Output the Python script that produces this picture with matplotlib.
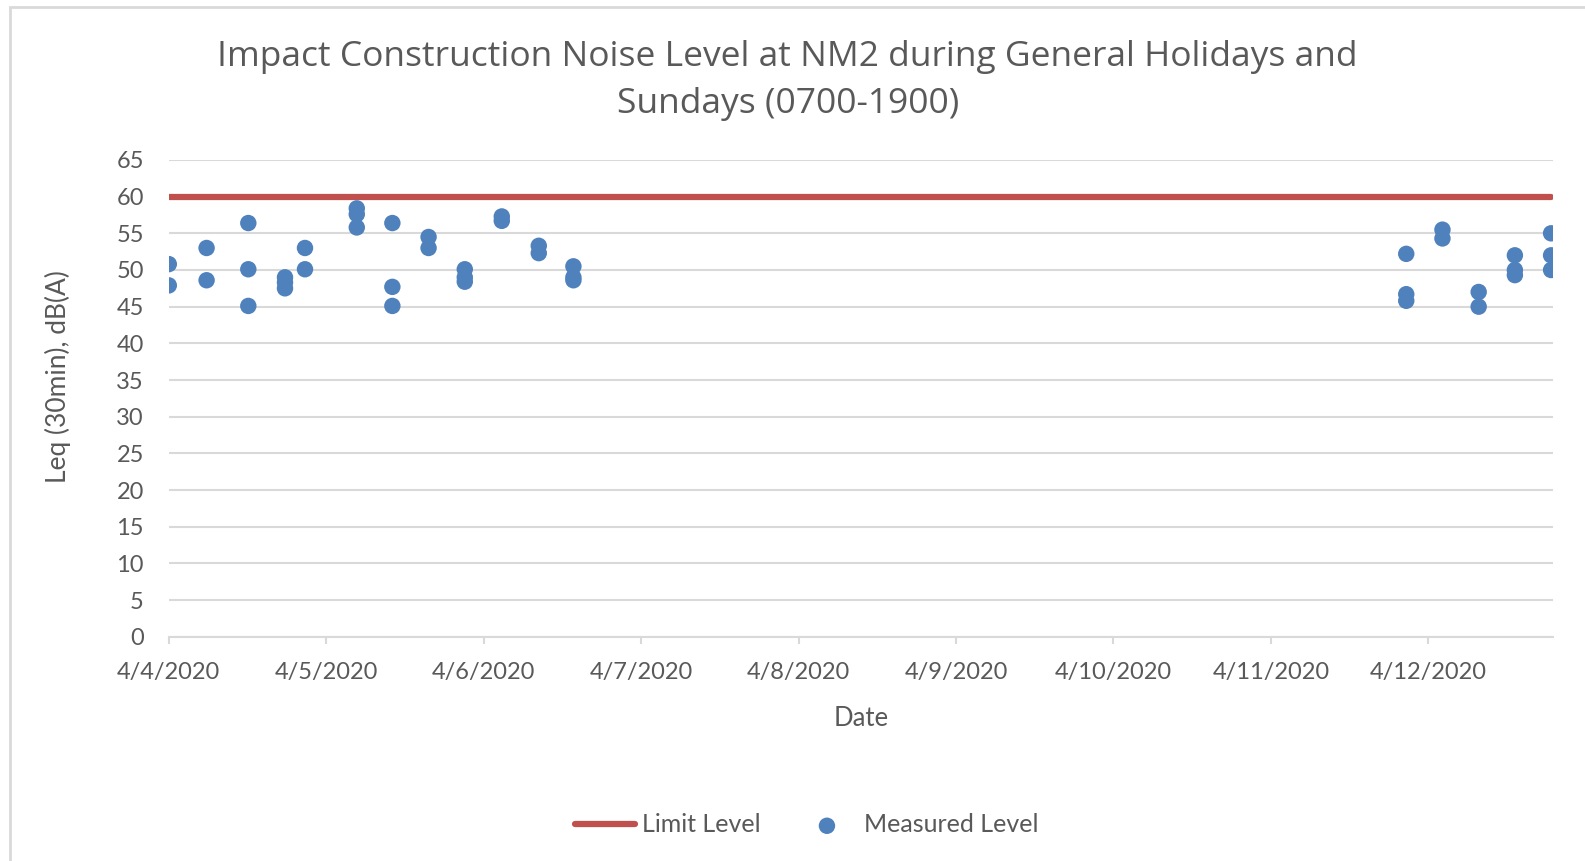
import numpy as np
import matplotlib
matplotlib.use("Agg")
import matplotlib.pyplot as plt
from matplotlib.patches import Rectangle

plt.rcParams['font.family'] = ['Lato', 'DejaVu Sans']

# Dias desde 4/4/2020 e nível medido, Leq (30min) dB(A)
meas_day = [0.0, 0.0,
            0.24, 0.24,
            0.505, 0.505, 0.505,
            0.738, 0.738, 0.738,
            0.865, 0.865,
            1.194, 1.194, 1.194,
            1.42, 1.42, 1.42,
            1.65, 1.65,
            1.88, 1.88, 1.88,
            2.115, 2.115,
            2.35, 2.35,
            2.57, 2.57, 2.57,
            7.86, 7.86, 7.86,
            8.09, 8.09,
            8.32, 8.32,
            8.55, 8.55, 8.55,
            8.78, 8.78, 8.78]
meas_leq = [50.8, 47.9,
            53.0, 48.6,
            56.4, 50.1, 45.1,
            49.0, 48.3, 47.5,
            53.0, 50.1,
            58.4, 57.6, 55.8,
            56.4, 47.7, 45.1,
            54.5, 53.0,
            50.1, 49.0, 48.4,
            57.3, 56.7,
            53.3, 52.3,
            50.5, 49.0, 48.6,
            52.2, 46.7, 45.8,
            55.5, 54.3,
            47.0, 45.0,
            52.0, 50.0, 49.3,
            55.0, 52.0, 50.0]
limit_level = 60
date_labels = ['4/4/2020', '4/5/2020', '4/6/2020', '4/7/2020', '4/8/2020',
               '4/9/2020', '4/10/2020', '4/11/2020', '4/12/2020']

fig = plt.figure(figsize=(15.85, 8.61), dpi=100)
ax = fig.add_axes([0.1065, 0.2605, 0.8731, 0.5537])

# borda do gráfico
fig.patches.append(Rectangle((0.0063, -0.01), 1.1, 1.002, transform=fig.transFigure,
                             fill=False, edgecolor='#d9d9d9', linewidth=2))

ax.plot([min(meas_day), max(meas_day)], [limit_level, limit_level], color='#C0504D',
        linewidth=4.5, solid_capstyle='round', label='Limit Level', zorder=2)
ax.scatter(meas_day, meas_leq, s=140, color='#4F81BD', edgecolors='none',
           label='Measured Level', zorder=3)

ax.set_xlim(0, 8.79)
ax.set_ylim(0, 65)
ax.set_yticks(np.arange(0, 66, 5))
ax.set_xticks(np.arange(len(date_labels)))
ax.set_xticklabels(date_labels)
ax.grid(axis='y', color='#d9d9d9', linewidth=1.5)
ax.set_axisbelow(True)
for s in ['top', 'right', 'left']:
    ax.spines[s].set_visible(False)
ax.spines['bottom'].set_color('#d9d9d9')
ax.spines['bottom'].set_linewidth(1.5)
ax.tick_params(axis='x', colors='#d9d9d9', length=5, width=1.5, labelcolor='#595959',
               labelsize=17, pad=13.5)
ax.tick_params(axis='y', length=0, labelcolor='#595959', labelsize=17, pad=18)

ax.set_xlabel('Date', fontsize=18.5, color='#595959', labelpad=16.5)
ax.set_ylabel('Leq (30min), dB(A)', fontsize=19, color='#595959')
ax.yaxis.set_label_coords(-0.071, 0.545)

fig.text(0.497, 0.907, 'Impact Construction Noise Level at NM2 during General Holidays and\nSundays (0700-1900)',
         ha='center', va='center', fontsize=25.5, color='#595959', linespacing=1.5,
         family=['Open Sans', 'DejaVu Sans'])

leg = fig.legend(loc='center', bbox_to_anchor=(0.509, 0.042), ncol=2, frameon=False,
                 fontsize=18, handlelength=2.4, columnspacing=1.45, handletextpad=0.3)
for t in leg.get_texts():
    t.set_color('#595959')

fig.savefig('out.png', dpi=100)
